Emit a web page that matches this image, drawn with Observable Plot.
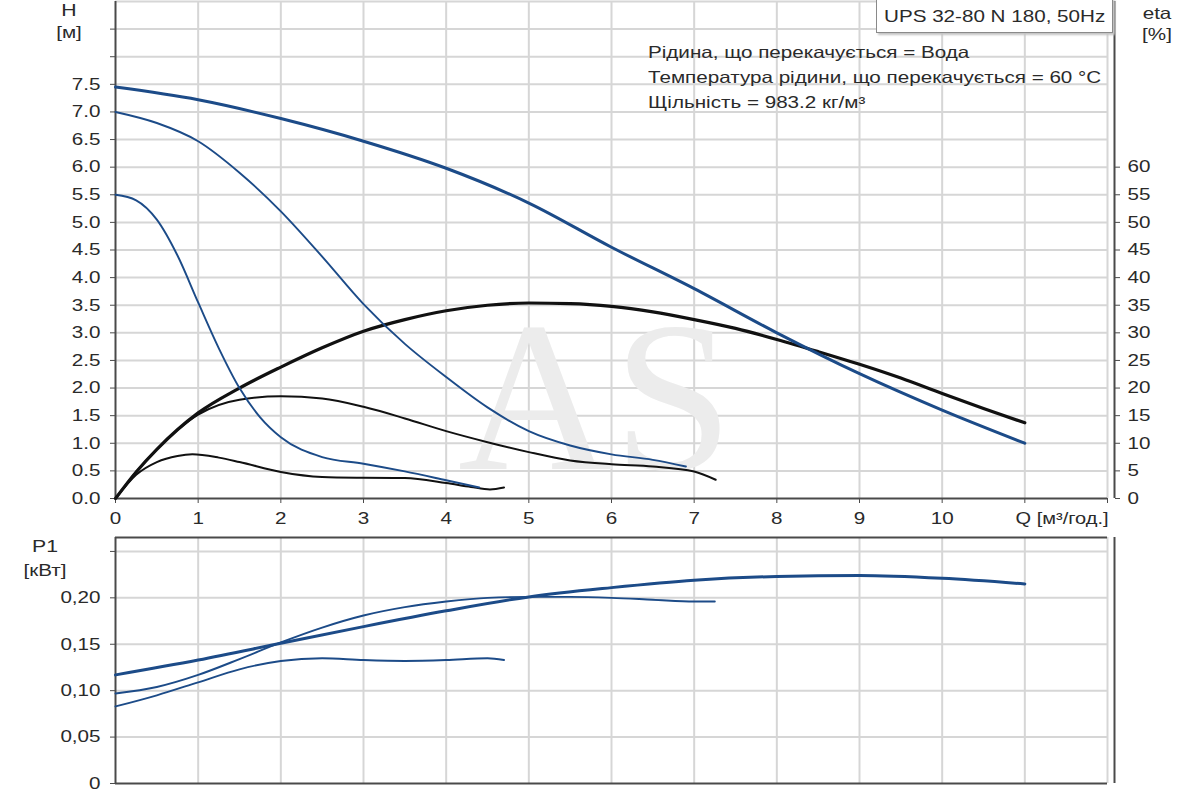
<!DOCTYPE html>
<html>
<head>
<meta charset="utf-8">
<script src="https://cdn.jsdelivr.net/npm/d3@7"></script>
<script src="https://cdn.jsdelivr.net/npm/@observablehq/plot@0.6"></script>
<style>
  body { margin: 0; background: #fff; font-family: "Liberation Sans", Arial, sans-serif; }
  #wrap { position: relative; width: 1200px; height: 800px; overflow: hidden; }
  #wrap svg { display: block; }
  .lbl { position: absolute; font-size: 16.5px; color: #2a2a2a; text-align: center; line-height: 1; white-space: nowrap;
         transform: scaleX(1.25); transform-origin: center top; }
  .box { position: absolute; left: 876px; top: -2px; width: 235px; height: 33px; border: 1px solid #8a8a8a;
         background: #fff; box-shadow: 2px 2px 2px #c4c4c4; color: #2a2a2a; }
  .box span { position: absolute; left: 7px; top: 9px; font-size: 16.5px; line-height: 1; white-space: nowrap;
         transform: scaleX(1.25); transform-origin: left top; }
  .legend { position: absolute; left: 648px; top: 40px; font-size: 16.5px; color: #2a2a2a; line-height: 25px;
         white-space: nowrap; transform: scaleX(1.25); transform-origin: left top; }
</style>
</head>
<body>
<div id="wrap"></div>
<script>
// ---- tick labels / categories ----
const qTicks = [0, 1, 2, 3, 4, 5, 6, 7, 8, 9, 10];
const qLabel = "Q [м³/год.]";
const hTicks = [0, 0.5, 1, 1.5, 2, 2.5, 3, 3.5, 4, 4.5, 5, 5.5, 6, 6.5, 7, 7.5, 8, 8.5];
const hLabelMax = 7.5;
const etaTicks = [0, 5, 10, 15, 20, 25, 30, 35, 40, 45, 50, 55, 60];
const p1Ticks = [0, 0.05, 0.1, 0.15, 0.2, 0.25];
const p1LabelMax = 0.2;

// ---- head H [m], speeds 3 / 2 / 1 ----
const h3Q = [0, 1, 2, 3, 4, 5, 6, 7, 8, 9, 10, 11];
const h3 = [7.45, 7.22, 6.88, 6.47, 5.98, 5.35, 4.55, 3.8, 3.0, 2.26, 1.6, 1.0];
const h2Q = [0, 0.5, 1, 1.5, 2, 2.5, 3, 3.5, 4, 4.5, 5, 5.5, 6, 6.5, 6.9];
const h2 = [7.0, 6.8, 6.47, 5.9, 5.2, 4.38, 3.52, 2.8, 2.2, 1.65, 1.22, 0.96, 0.8, 0.7, 0.58];
const h1Q = [0, 0.25, 0.5, 0.75, 1, 1.25, 1.5, 1.75, 2, 2.5, 3, 3.5, 4, 4.4];
const h1 = [5.5, 5.4, 5.05, 4.4, 3.55, 2.72, 2.0, 1.47, 1.11, 0.75, 0.63, 0.49, 0.33, 0.2];

// ---- efficiency eta [%], speeds 3 / 2 / 1 ----
const e3Q = [0, 0.25, 0.5, 1, 1.5, 2, 2.5, 3, 3.5, 4, 4.5, 5, 5.5, 6, 6.5, 7, 7.5, 8, 8.5, 9, 9.5, 10, 10.5, 11];
const e3 = [0, 4.8, 8.9, 15.5, 20.0, 23.8, 27.3, 30.3, 32.4, 34.0, 35.0, 35.4, 35.3, 34.8, 33.8, 32.4, 30.8, 28.8, 26.6, 24.3, 21.8, 19.0, 16.3, 13.7];
const e2Q = [0, 0.25, 0.5, 1, 1.5, 2, 2.5, 3, 3.5, 4, 4.5, 5, 5.5, 6, 6.5, 7, 7.26];
const e2 = [0, 4.8, 8.9, 15.2, 17.9, 18.5, 18.1, 16.6, 14.5, 12.2, 10.2, 8.4, 6.9, 6.2, 5.8, 4.9, 3.4];
const e1Q = [0, 0.25, 0.5, 0.75, 0.93, 1.25, 1.5, 2, 2.5, 3, 3.5, 4, 4.3, 4.53, 4.7];
const e1 = [0, 4.3, 6.6, 7.7, 8.0, 7.4, 6.6, 4.8, 3.9, 3.75, 3.7, 2.8, 2.1, 1.65, 2.0];

// ---- power P1 [kW], speeds 3 / 2 / 1 ----
const p3Q = [0, 1, 2, 3, 4, 5, 6, 7, 8, 9, 10, 11];
const p3 = [0.117, 0.133, 0.151, 0.169, 0.186, 0.201, 0.211, 0.219, 0.223, 0.224, 0.221, 0.215];
const p2Q = [0, 0.5, 1, 1.5, 2, 2.5, 3, 3.5, 4, 4.5, 5, 5.5, 6, 6.5, 7, 7.25];
const p2 = [0.097, 0.104, 0.117, 0.134, 0.152, 0.168, 0.181, 0.19, 0.196, 0.2, 0.201, 0.201, 0.2, 0.198, 0.196, 0.196];
const p1Q = [0, 0.5, 1, 1.5, 2, 2.5, 3, 3.5, 4, 4.5, 4.7];
const p1 = [0.083, 0.095, 0.109, 0.123, 0.132, 0.135, 0.133, 0.132, 0.133, 0.135, 0.133];

const rows = (qs, vs, k = 1) => qs.map((q, i) => ({ q, v: vs[i] * k }));
const etaToH = 0.1; // 60 % sits on the 6.0 m line

const BLUE = "#1c4b88";
const BLACK = "#111";
const GRID = "#d6d6d6";
const AXIS = "#4a4a4a";
const FONT = "Liberation Sans, Arial, sans-serif";
const curve = "monotone-x";
const STRETCH = 1.25;

const wrap = document.getElementById("wrap");

// widen SVG label glyphs horizontally (reference text is set wide)
function stretchTexts(svg, k, skip) {
  svg.querySelectorAll("text").forEach(t => {
    if (skip && skip(t)) return;
    const tr = t.getAttribute("transform") || "";
    const m = /translate\(\s*([-\d.e]+)[ ,]+([-\d.e]+)\s*\)/.exec(tr);
    const x = m ? +m[1] : 0, y = m ? +m[2] : 0;
    const xa = parseFloat(t.getAttribute("x")) || 0;
    t.removeAttribute("transform");
    t.style.transformOrigin = "0 0";
    t.style.transform = `translate(${x + xa}px, ${y}px) scale(${k}, 1) translate(${-xa}px, 0px)`;
  });
}

const topChart = Plot.plot({
  width: 1200, height: 535,
  marginLeft: 115, marginRight: 93, marginTop: 1, marginBottom: 37,
  x: { domain: [0, 12] },
  y: { domain: [0, 9] },
  style: { fontFamily: FONT, fontSize: "16.5px", color: "#2a2a2a", background: "transparent" },
  marks: [
    Plot.gridX(d3.range(1, 13), { stroke: GRID, strokeOpacity: 1, strokeWidth: 2 }),
    Plot.gridY(d3.range(0.5, 9.01, 0.5), { stroke: GRID, strokeOpacity: 1, strokeWidth: 2 }),
    Plot.text(["AS"], { frameAnchor: "middle", dx: -16, dy: 150, text: d => d, fontSize: 215,
      fontFamily: "Liberation Serif, DejaVu Serif, serif", fill: "#ececec", textAnchor: "middle",
      className: "watermark" }),
    Plot.ruleY([0], { stroke: AXIS, strokeWidth: 2 }),
    Plot.ruleX([0], { stroke: AXIS, strokeWidth: 2 }),
    Plot.ruleX([12], { dx: 7, stroke: AXIS, strokeWidth: 2 }),
    Plot.axisX(qTicks, { tickSize: 5, tickPadding: 9, fontSize: 16.5, label: null, stroke: AXIS }),
    Plot.axisX([11, 12], { tickSize: 5, tickFormat: () => "", label: null, stroke: AXIS }),
    Plot.axisX([11.45], { tickSize: 0, tickPadding: 14, tickFormat: () => qLabel, fontSize: 16, label: null }),
    Plot.axisY(hTicks, { tickSize: 5, tickPadding: 10, fontSize: 16.5, label: null, stroke: AXIS,
      tickFormat: d => d <= hLabelMax ? d.toFixed(1) : "" }),
    Plot.axisY(etaTicks.map(e => e * etaToH), { anchor: "right", dx: 7, tickSize: 5, tickPadding: 8, fontSize: 16.5,
      label: null, stroke: AXIS, tickFormat: d => String(Math.round(d / etaToH)) }),
    // efficiency curves (black)
    Plot.line(rows(e1Q, e1, etaToH), { x: "q", y: "v", stroke: BLACK, strokeWidth: 2, curve }),
    Plot.line(rows(e2Q, e2, etaToH), { x: "q", y: "v", stroke: BLACK, strokeWidth: 2, curve }),
    Plot.line(rows(e3Q, e3, etaToH), { x: "q", y: "v", stroke: BLACK, strokeWidth: 3.2, curve }),
    // head curves (blue)
    Plot.line(rows(h1Q, h1), { x: "q", y: "v", stroke: BLUE, strokeWidth: 1.9, curve }),
    Plot.line(rows(h2Q, h2), { x: "q", y: "v", stroke: BLUE, strokeWidth: 1.9, curve }),
    Plot.line(rows(h3Q, h3), { x: "q", y: "v", stroke: BLUE, strokeWidth: 3, curve })
  ]
});
stretchTexts(topChart, STRETCH, t => t.textContent === "AS");
wrap.appendChild(topChart);

const bottomChart = Plot.plot({
  width: 1200, height: 265,
  marginLeft: 115, marginRight: 93, marginTop: 2, marginBottom: 17,
  x: { domain: [0, 12], axis: null },
  y: { domain: [0, 0.265], axis: null },
  style: { fontFamily: FONT, fontSize: "16.5px", color: "#2a2a2a", background: "transparent" },
  marks: [
    Plot.gridX(d3.range(1, 13), { stroke: GRID, strokeOpacity: 1, strokeWidth: 2 }),
    Plot.gridY(p1Ticks.slice(1), { stroke: GRID, strokeOpacity: 1, strokeWidth: 2 }),
    Plot.ruleY([0], { stroke: AXIS, strokeWidth: 2 }),
    Plot.ruleY([0.265], { stroke: AXIS, strokeWidth: 2 }),
    Plot.ruleX([0], { stroke: AXIS, strokeWidth: 2 }),
    Plot.ruleX([12], { dx: 7, stroke: AXIS, strokeWidth: 2 }),
    Plot.axisY(p1Ticks, { tickSize: 5, tickPadding: 10, fontSize: 16.5, label: null, stroke: AXIS,
      tickFormat: d => d === 0 ? "0" : (d <= p1LabelMax + 1e-9 ? d.toFixed(2).replace(".", ",") : "") }),
    Plot.line(rows(p1Q, p1), { x: "q", y: "v", stroke: BLUE, strokeWidth: 1.9, curve }),
    Plot.line(rows(p2Q, p2), { x: "q", y: "v", stroke: BLUE, strokeWidth: 1.9, curve }),
    Plot.line(rows(p3Q, p3), { x: "q", y: "v", stroke: BLUE, strokeWidth: 3, curve })
  ]
});
stretchTexts(bottomChart, STRETCH);
wrap.appendChild(bottomChart);

// ---- titles / labels ----
function addLabel(text, cls, style) {
  const d = document.createElement("div");
  d.className = cls;
  d.textContent = text;
  Object.assign(d.style, style);
  wrap.appendChild(d);
  return d;
}
addLabel("H", "lbl", { left: "54px", top: "2px", width: "30px", fontSize: "17px" });
addLabel("[м]", "lbl", { left: "49px", top: "24px", width: "40px" });
addLabel("eta", "lbl", { left: "1137px", top: "5px", width: "40px" });
addLabel("[%]", "lbl", { left: "1137px", top: "26px", width: "40px" });
addLabel("P1", "lbl", { left: "27px", top: "538px", width: "36px", fontSize: "17px" });
addLabel("[кВт]", "lbl", { left: "20px", top: "562px", width: "50px" });
const box = document.createElement("div");
box.className = "box";
const bs = document.createElement("span");
bs.textContent = "UPS 32-80 N 180, 50Hz";
box.appendChild(bs);
wrap.appendChild(box);
const legendLines = [
  "Рідина, що перекачується = Вода",
  "Температура рідини, що перекачується = 60 °C",
  "Щільність = 983.2 кг/м³"
];
const lg = document.createElement("div");
lg.className = "legend";
legendLines.forEach(t => { const p = document.createElement("div"); p.textContent = t; lg.appendChild(p); });
wrap.appendChild(lg);
</script>
</body>
</html>
